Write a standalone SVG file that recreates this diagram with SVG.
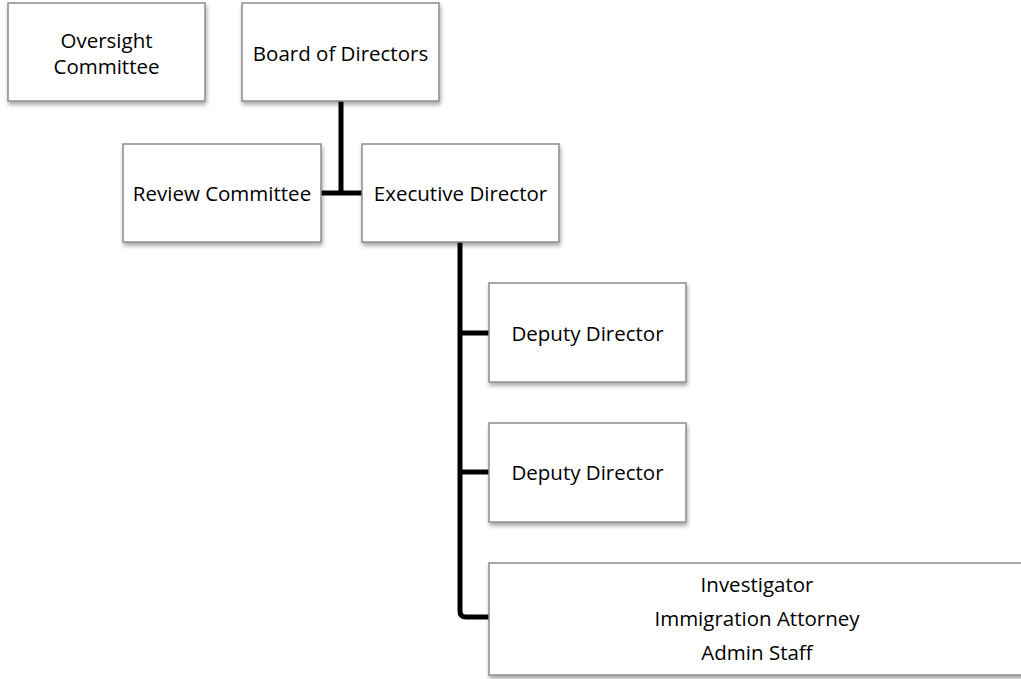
<svg xmlns="http://www.w3.org/2000/svg" width="1021" height="679" viewBox="0 0 1021 679">
<defs>
<filter id="sh" x="-10%" y="-10%" width="130%" height="140%">
<feGaussianBlur in="SourceAlpha" stdDeviation="2"/>
<feOffset dx="1" dy="3" result="b"/>
<feComponentTransfer><feFuncA type="linear" slope="0.35"/></feComponentTransfer>
<feMerge><feMergeNode/><feMergeNode in="SourceGraphic"/></feMerge>
</filter>
</defs>
<style>
.box{fill:#fff;stroke:#8c8c8c;stroke-width:1.5;filter:url(#sh)}
.t{font-family:"Open Sans","Liberation Sans",sans-serif;font-size:20.5px;fill:#000;text-anchor:middle;dominant-baseline:central}
.c{fill:none;stroke:#000;stroke-width:5}
</style>
<rect width="1021" height="679" fill="#fff"/>
<g id="connectors">
<path class="c" d="M341 101 V193 M321 193 H362"/>
<path class="c" d="M460 242 V611 Q460 617 466 617 H489 M460 333 H489 M460 472 H489"/>
</g>
<g id="oversight"><rect class="box" x="8" y="3" width="197" height="98"/><text class="t" x="106.5" y="40">Oversight</text><text class="t" x="106.5" y="66">Committee</text></g>
<g id="board"><rect class="box" x="242" y="3" width="197" height="98"/><text class="t" x="340.5" y="53">Board of Directors</text></g>
<g id="review"><rect class="box" x="123" y="144" width="198" height="98"/><text class="t" x="222" y="193">Review Committee</text></g>
<g id="executive"><rect class="box" x="362" y="144" width="197" height="98"/><text class="t" x="460.5" y="193">Executive Director</text></g>
<g id="deputy1"><rect class="box" x="489" y="283" width="197" height="99"/><text class="t" x="587.5" y="333">Deputy Director</text></g>
<g id="deputy2"><rect class="box" x="489" y="423" width="197" height="99"/><text class="t" x="587.5" y="472">Deputy Director</text></g>
<g id="staff"><rect class="box" x="489" y="563" width="540" height="112"/><text class="t" x="757" y="584">Investigator</text><text class="t" x="757" y="618">Immigration Attorney</text><text class="t" x="757" y="652">Admin Staff</text></g>
</svg>
